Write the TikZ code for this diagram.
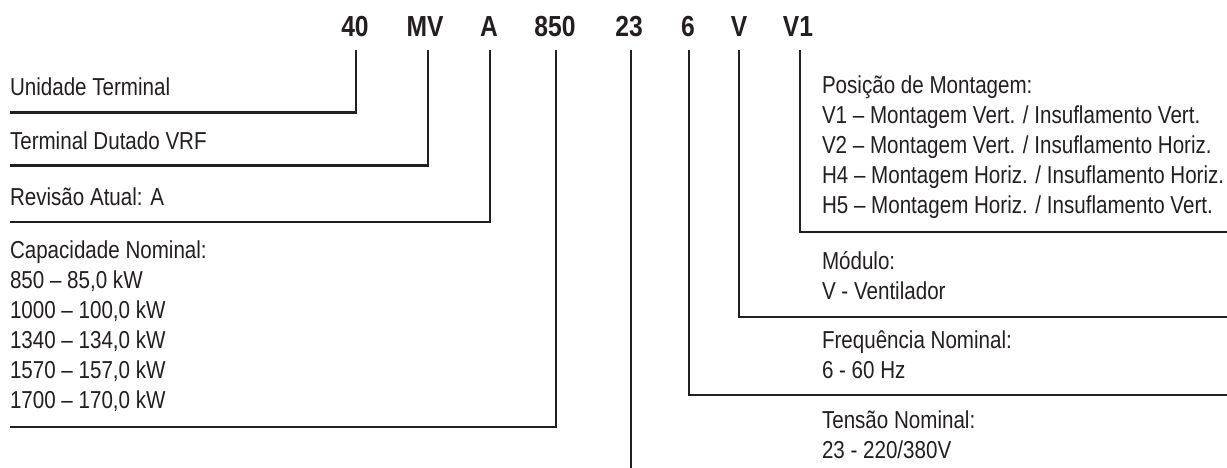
\documentclass[tikz,border=0pt]{standalone}
\usepackage{fontspec}
\setmainfont{Liberation Sans}[FakeStretch=0.84]
\newfontfamily\hdrfont{Liberation Sans}[FakeStretch=0.85]
\definecolor{ink}{HTML}{231F20}
\begin{document}
\begin{tikzpicture}[x=1pt,y=-1pt,
  every node/.style={inner sep=0pt, outer sep=0pt, text=ink},
  hdr/.style={font=\hdrfont\bfseries\fontsize{29}{29}\selectfont, anchor=base},
  lbl/.style={font=\fontsize{24.5}{30}\selectfont, anchor=base west},
  conn/.style={draw=ink, line width=2.6pt, line join=miter}]
\fill[white] (0,0) rectangle (1227,468);
\useasboundingbox (0,0) rectangle (1227,468);
% header code
\node[hdr] (h40)  at (355,37) {40};
\node[hdr] (hMV)  at (425,37) {MV};
\node[hdr] (hA)   at (489,37) {A};
\node[hdr] (h850) at (555,37) {850};
\node[hdr] (h23)  at (629,37) {23};
\node[hdr] (h6)   at (688,37) {6};
\node[hdr] (hV)   at (739,37) {V};
\node[hdr] (hV1)  at (798,37) {V1};
% left labels
\node[lbl] (l40) at (10,96) {Unidade Terminal};
\node[lbl] (lMV) at (10,150) {Terminal Dutado VRF};
\node[lbl] (lA)  at (10,205) {Revisão Atual: A};
\node[lbl] (l850a) at (10,258) {Capacidade Nominal:};
\node[lbl] (l850b) at (10,288) {850 – 85,0 kW};
\node[lbl] (l850c) at (10,318) {1000 – 100,0 kW};
\node[lbl] (l850d) at (10,348) {1340 – 134,0 kW};
\node[lbl] (l850e) at (10,378) {1570 – 157,0 kW};
\node[lbl] (l850f) at (10,408) {1700 – 170,0 kW};
% right labels
\node[lbl] (rV1a) at (822,94) {Posição de Montagem:};
\node[lbl] (rV1b) at (822,124) {V1 – Montagem Vert. / Insuflamento Vert.};
\node[lbl] (rV1c) at (822,154) {V2 – Montagem Vert. / Insuflamento Horiz.};
\node[lbl] (rV1d) at (822,184) {H4 – Montagem Horiz. / Insuflamento Horiz.};
\node[lbl] (rV1e) at (822,214) {H5 – Montagem Horiz. / Insuflamento Vert.};
\node[lbl] (rVa) at (822,269) {Módulo:};
\node[lbl] (rVb) at (822,299) {V - Ventilador};
\node[lbl] (r6a) at (822,348) {Frequência Nominal:};
\node[lbl] (r6b) at (822,378) {6 - 60 Hz};
\node[lbl] (r23a) at (822,428) {Tensão Nominal:};
\node[lbl] (r23b) at (822,458) {23 - 220/380V};
% connector coordinates
\coordinate (t40)  at (356,50);  \coordinate (e40)  at (10,112.5);
\coordinate (tMV)  at (428,50);  \coordinate (eMV)  at (10,165.5);
\coordinate (tA)   at (490,50);  \coordinate (eA)   at (10,222);
\coordinate (t850) at (556,50);  \coordinate (e850) at (10,427);
\coordinate (t23)  at (631,50);  \coordinate (e23)  at (631,468);
\coordinate (t6)   at (689,50);  \coordinate (e6)   at (1227,395);
\coordinate (tV)   at (739,50);  \coordinate (eV)   at (1227,317);
\coordinate (tV1)  at (800,50);  \coordinate (eV1)  at (1227,232);
\draw[conn] (t40) |- (e40);
\draw[conn] (tMV) |- (eMV);
\draw[conn] (tA) |- (eA);
\draw[conn] (t850) |- (e850);
\draw[conn] (t23) -- (e23);
\draw[conn] (t6) |- (e6);
\draw[conn] (tV) |- (eV);
\draw[conn] (tV1) |- (eV1);
\end{tikzpicture}
\end{document}
